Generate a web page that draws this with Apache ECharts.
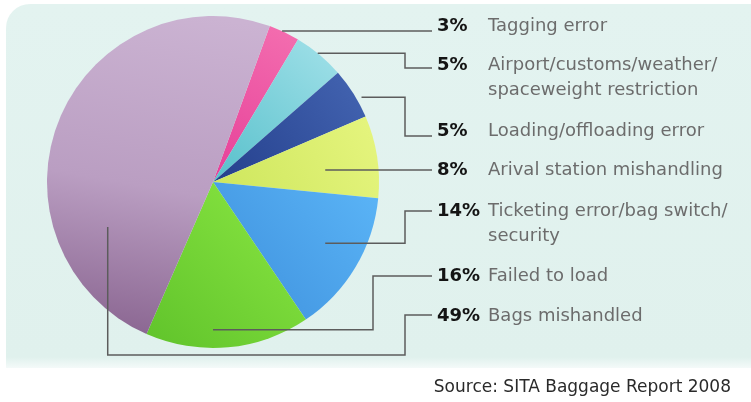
<!DOCTYPE html>
<html>
<head>
<meta charset="utf-8">
<script src="https://cdn.jsdelivr.net/npm/echarts@6/dist/echarts.min.js"></script>
<style>
  html, body { margin: 0; padding: 0; background: #fff; }
  #chart { width: 751px; height: 402px; }
</style>
</head>
<body>
<div id="chart"></div>
<script>
// data
const causes = [
  'Tagging error',
  'Airport/customs/weather/\nspaceweight restriction',
  'Loading/offloading error',
  'Arival station mishandling',
  'Ticketing error/bag switch/\nsecurity',
  'Failed to load',
  'Bags mishandled'
];
const shares = [3, 5, 5, 8, 14, 16, 49];
const sourceNote = 'Source: SITA Baggage Report 2008';

// slice shading: [light, dark]
const sliceColors = [
  ['#f46fb0', '#e63f98'],
  ['#a2e1e9', '#57c0cb'],
  ['#4465b2', '#243f8c'],
  ['#e6f57f', '#cde65c'],
  ['#5bb5f7', '#3d8fdc'],
  ['#8ce843', '#60c32b'],
  ['#cbb3d2', '#8c6893']
];

// layout
const CX = 213, CY = 182, R = 166;
const START = 20;              // first slice edge, degrees clockwise from 12 o'clock
const TEXT_X = 437, LINE_END = 432, LINE_H = 25;
const rowY = [26, 65, 131, 170, 211, 276, 316];
const lineY = [31, 68, 136, 170, 211, 276, 315];
const routeKind = ['h', 'z', 'z', 'h', 'z', 'z', 'u'];
const elbowX = [0, 405, 405, 0, 405, 373, 405];
const leaderDepth = [1, 1, 1.03, 0.68, 0.77, 0.89, 0.69];
const leaderTurn = [-0.8, -0.7, 2.5, 2.7, -2.2, 5.2, -45];
const dropY = 355;

const total = shares.reduce((a, b) => a + b, 0);
const midDeg = [];
let acc = START;
shares.forEach(v => {
  const sweep = v / total * 360;
  midDeg.push(acc + sweep / 2);
  acc += sweep;
});

const chart = echarts.init(document.getElementById('chart'), null, { renderer: 'canvas' });

const gradFor = (i) => {
  const [light, dark] = sliceColors[i];
  if (i === 6) {
    return new echarts.graphic.LinearGradient(0.7, 0, 0.45, 1, [
      { offset: 0, color: light },
      { offset: 0.55, color: '#ba9ec2' },
      { offset: 1, color: dark }
    ]);
  }
  return new echarts.graphic.LinearGradient(1, 0, 0, 1, [
    { offset: 0, color: light },
    { offset: 1, color: dark }
  ]);
};

const pieBase = {
  type: 'pie',
  silent: true,
  center: [CX, CY],
  radius: R,
  startAngle: 90 - START,
  clockwise: true,
  avoidLabelOverlap: false
};

const option = {
  backgroundColor: '#ffffff',
  animation: false,
  graphic: [
    {
      type: 'rect',
      z: -10,
      silent: true,
      shape: { x: 6, y: 4, width: 760, height: 364, r: [24, 0, 0, 0] },
      style: {
        fill: new echarts.graphic.LinearGradient(0, 0, 0, 1, [
          { offset: 0, color: '#e3f3f0' },
          { offset: 0.97, color: '#e0f1ed' },
          { offset: 1, color: '#f4faf9' }
        ])
      }
    },
    {
      type: 'text',
      silent: true,
      style: {
        text: sourceNote,
        x: 731,
        y: 388,
        align: 'right',
        verticalAlign: 'middle',
        textAlign: 'right',
        textVerticalAlign: 'middle',
        font: '17px "DejaVu Sans"',
        fill: '#2a2a2a'
      }
    }
  ],
  series: [
    // coloured slices
    Object.assign({}, pieBase, {
      z: 2,
      itemStyle: { borderWidth: 0 },
      label: { show: false },
      labelLine: { show: false },
      data: shares.map((v, i) => ({
        name: causes[i],
        value: v,
        itemStyle: { color: gradFor(i) }
      }))
    }),
    // same slices, transparent, carrying labels and leader lines on top
    Object.assign({}, pieBase, {
      z: 5,
      itemStyle: { color: 'rgba(0,0,0,0)', borderWidth: 0 },
      data: shares.map((v, i) => ({ name: causes[i], value: v })),
      label: {
        show: true,
        position: 'outside',
        formatter: (p) => {
          const lines = causes[p.dataIndex].split('\n');
          return '{p|' + shares[p.dataIndex] + '%}' +
            lines.map(l => '{d|' + l + '}').join('\n{s| }');
        },
        rich: {
          p: {
            fontFamily: 'DejaVu Sans',
            fontWeight: 'bold',
            fontSize: 18,
            color: '#141414',
            width: 51,
            lineHeight: LINE_H
          },
          d: {
            fontFamily: 'DejaVu Sans',
            fontSize: 18,
            color: '#6c6c6c',
            lineHeight: LINE_H
          },
          s: { width: 51, fontSize: 18, lineHeight: LINE_H }
        }
      },
      labelLine: {
        show: true,
        lineStyle: { color: '#5c5c5c', width: 1.5 }
      },
      labelLayout: (p) => {
        const i = p.dataIndex;
        const a = (midDeg[i] + leaderTurn[i]) * Math.PI / 180;
        const r = R * leaderDepth[i];
        const sx = CX + r * Math.sin(a);
        const sy = CY - r * Math.cos(a);
        let pts;
        if (routeKind[i] === 'h') {
          pts = [[sx, sy], [LINE_END, sy]];
        } else if (routeKind[i] === 'z') {
          pts = [[sx, sy], [elbowX[i], sy], [elbowX[i], lineY[i]], [LINE_END, lineY[i]]];
        } else {
          pts = [[sx, sy], [sx, dropY], [elbowX[i], dropY], [elbowX[i], lineY[i]], [LINE_END, lineY[i]]];
        }
        return {
          x: TEXT_X,
          y: rowY[i] - LINE_H / 2,
          align: 'left',
          verticalAlign: 'top',
          labelLinePoints: pts
        };
      }
    })
  ]
};

chart.setOption(option);
</script>
</body>
</html>
